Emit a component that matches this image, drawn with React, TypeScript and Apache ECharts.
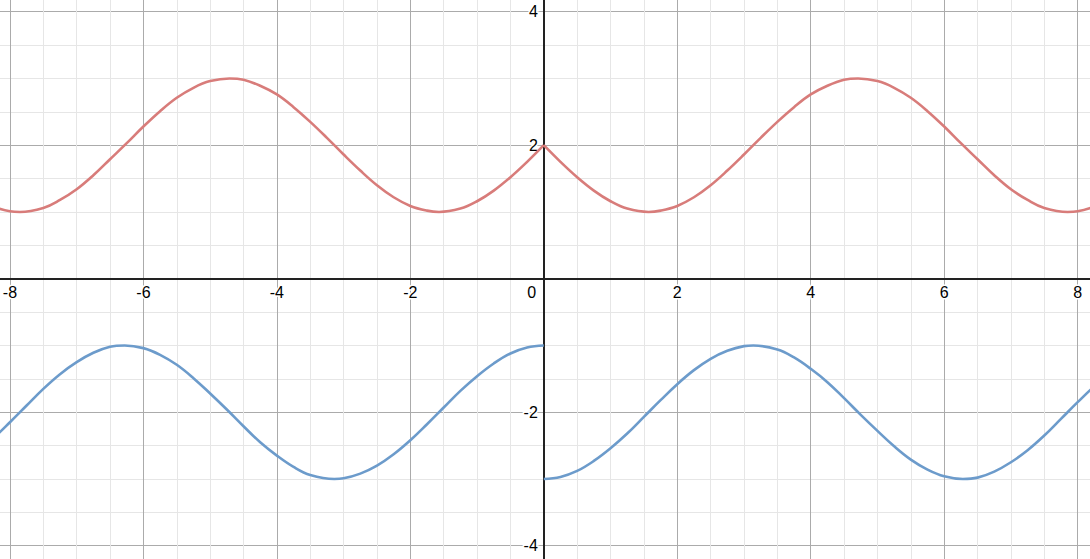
import React, { useRef, useEffect } from 'react';
import * as echarts from 'echarts';

// x samples (turning points included)
const redXRight = [0, 0.25, 0.5, 0.75, 1, 1.25, 1.57, 1.75, 2, 2.25, 2.5, 2.75, 3, 3.25, 3.5, 3.75, 4, 4.25, 4.5, 4.71, 5, 5.25, 5.5, 5.75, 6, 6.25, 6.5, 6.75, 7, 7.25, 7.5, 7.85, 8, 8.25, 8.5];
const redXLeft = [0, -0.25, -0.5, -0.75, -1, -1.25, -1.57, -1.75, -2, -2.25, -2.5, -2.75, -3, -3.25, -3.5, -3.75, -4, -4.25, -4.5, -4.71, -5, -5.25, -5.5, -5.75, -6, -6.25, -6.5, -6.75, -7, -7.25, -7.5, -7.85, -8, -8.25, -8.5];
const blueXRight = [0, 0.25, 0.5, 0.75, 1, 1.25, 1.5, 1.75, 2, 2.25, 2.5, 2.75, 3, 3.14, 3.5, 3.75, 4, 4.25, 4.5, 4.75, 5, 5.25, 5.5, 5.75, 6, 6.28, 6.5, 6.75, 7, 7.25, 7.5, 7.75, 8, 8.25, 8.5];
const blueXLeft = [0, -0.25, -0.5, -0.75, -1, -1.25, -1.5, -1.75, -2, -2.25, -2.5, -2.75, -3, -3.14, -3.5, -3.75, -4, -4.25, -4.5, -4.75, -5, -5.25, -5.5, -5.75, -6, -6.28, -6.5, -6.75, -7, -7.25, -7.5, -7.75, -8, -8.25, -8.5];

// red curve (symmetric about the y axis)
const redRight = [2.0, 1.75, 1.52, 1.32, 1.16, 1.05, 1.0, 1.02, 1.09, 1.22, 1.4, 1.62, 1.86, 2.11, 2.35, 2.57, 2.76, 2.89, 2.98, 3.0, 2.96, 2.86, 2.71, 2.51, 2.28, 2.03, 1.79, 1.55, 1.34, 1.18, 1.06, 1.0, 1.01, 1.08, 1.2];
const redLeft = [2.0, 1.75, 1.52, 1.32, 1.16, 1.05, 1.0, 1.02, 1.09, 1.22, 1.4, 1.62, 1.86, 2.11, 2.35, 2.57, 2.76, 2.89, 2.98, 3.0, 2.96, 2.86, 2.71, 2.51, 2.28, 2.03, 1.79, 1.55, 1.34, 1.18, 1.06, 1.0, 1.01, 1.08, 1.2];

// blue curve (jumps at x = 0)
const blueRight = [-3.0, -2.97, -2.88, -2.73, -2.54, -2.32, -2.07, -1.82, -1.58, -1.37, -1.2, -1.08, -1.01, -1.0, -1.06, -1.18, -1.35, -1.55, -1.79, -2.04, -2.28, -2.51, -2.71, -2.86, -2.96, -3.0, -2.98, -2.89, -2.75, -2.57, -2.35, -2.1, -1.85, -1.61, -1.4];
const blueLeft = [-1.0, -1.03, -1.12, -1.27, -1.46, -1.68, -1.93, -2.18, -2.42, -2.63, -2.8, -2.92, -2.99, -3.0, -2.94, -2.82, -2.65, -2.45, -2.21, -1.96, -1.72, -1.49, -1.29, -1.14, -1.04, -1.0, -1.02, -1.11, -1.25, -1.43, -1.65, -1.9, -2.15, -2.39, -2.6];

const RED = '#d87c7a';
const BLUE = '#6c9bcb';

const X_MIN = -8.299;
const X_MAX = 8.335;
const Y_MIN = -4.349;
const Y_MAX = 4.325;

const W = 1090;
const H = 559;
const PAD = 10; // grid runs past the page edges so its edge lines stay hidden

const pairs = (xs: number[], ys: number[]) => xs.map((x, i) => [x, ys[i]]);

const labelFont = {
  fontFamily: '"Liberation Sans", Arial, sans-serif',
  fontSize: 16,
  color: '#000',
  textBorderColor: '#fff',
  textBorderWidth: 3,
};

const isMajor = (v: number) => Math.abs(v - Math.round(v)) < 1e-6 && Math.round(v) % 2 === 0;

export default function App() {
  const chartRef = useRef<HTMLDivElement>(null);

  useEffect(() => {
    if (!chartRef.current) return;
    const chart = echarts.init(chartRef.current, null, { renderer: 'svg' });

    // where the zero lines fall inside the (oversized) grid
    const gw = W + 2 * PAD;
    const gh = H + 2 * PAD;
    const zeroX = (-X_MIN / (X_MAX - X_MIN)) * gw;
    const zeroY = (Y_MAX / (Y_MAX - Y_MIN)) * gh;

    const curve = (data: number[][], color: string) => ({
      type: 'line' as const,
      data,
      smooth: 0.4,
      symbol: 'none',
      lineStyle: { color, width: 2.6 },
      z: 3,
    });

    const option: any = {
      animation: false,
      backgroundColor: '#fff',
      grid: {
        left: -PAD,
        right: -PAD,
        top: -PAD,
        bottom: -PAD,
        containLabel: false,
        outerBoundsMode: 'none',
      },
      xAxis: {
        type: 'value',
        position: 'bottom',
        offset: -(gh - zeroY),
        min: X_MIN,
        max: X_MAX,
        splitNumber: 8,
        minInterval: 2,
        maxInterval: 2,
        axisLine: { onZero: false, lineStyle: { color: '#222', width: 2 } },
        axisTick: { show: false },
        axisLabel: {
          ...labelFont,
          margin: 6,
          formatter: (v: number) => {
            if (!isMajor(v)) return '';
            if (Math.round(v) === 0) return '{z|0}';
            return String(Math.round(v));
          },
          rich: { z: { ...labelFont, padding: [0, 24, 0, 0] } },
        },
        splitLine: { show: true, lineStyle: { color: '#ababab', width: 1 } },
        minorTick: { show: false, splitNumber: 4 },
        minorSplitLine: { show: true, lineStyle: { color: '#e6e6e6', width: 1 } },
      },
      yAxis: {
        type: 'value',
        position: 'left',
        offset: -zeroX,
        min: Y_MIN,
        max: Y_MAX,
        splitNumber: 4,
        minInterval: 2,
        maxInterval: 2,
        axisLine: { onZero: false, lineStyle: { color: '#222', width: 2 } },
        axisTick: { show: false },
        axisLabel: {
          ...labelFont,
          margin: 6,
          formatter: (v: number) => (isMajor(v) && Math.round(v) !== 0 ? String(Math.round(v)) : ''),
        },
        splitLine: { show: true, lineStyle: { color: '#ababab', width: 1 } },
        minorTick: { show: false, splitNumber: 4 },
        minorSplitLine: { show: true, lineStyle: { color: '#e6e6e6', width: 1 } },
      },
      series: [
        curve(pairs(redXLeft, redLeft), RED),
        curve(pairs(redXRight, redRight), RED),
        curve(pairs(blueXLeft, blueLeft), BLUE),
        curve(pairs(blueXRight, blueRight), BLUE),
      ],
    };

    chart.setOption(option);
    return () => chart.dispose();
  }, []);

  return (
    <div
      ref={chartRef}
      style={{ position: 'fixed', left: 0, top: 0, width: W, height: H, background: '#fff' }}
    />
  );
}
